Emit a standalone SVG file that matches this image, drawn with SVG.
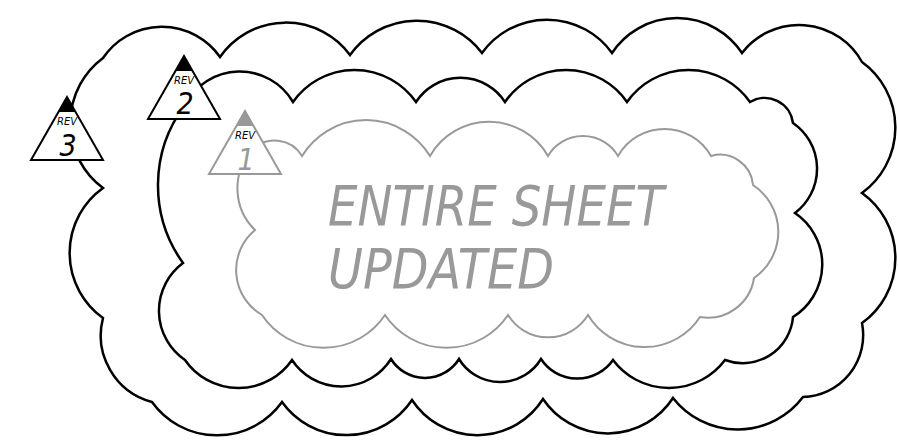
<svg xmlns="http://www.w3.org/2000/svg" width="898" height="440" viewBox="0 0 898 440">
<style>
.bk{fill:none;stroke:#000;stroke-width:2.5;stroke-linejoin:miter}
.gy{fill:none;stroke:#999;stroke-width:2;stroke-linejoin:miter}
.tri{fill:#fff;stroke:#000;stroke-width:2}
.tri1{fill:#fff;stroke:#999;stroke-width:2}
.rev{font-family:"DejaVu Sans",sans-serif;font-style:oblique;font-size:10px;text-anchor:middle}
.num{font-family:"DejaVu Sans",sans-serif;font-style:oblique;font-size:30px;text-anchor:middle;font-stretch:condensed}
.big{font-family:"DejaVu Sans",sans-serif;font-style:oblique;font-size:56px;fill:#999}
</style>
<rect width="898" height="440" fill="#fff"/>
<g id="clouds">
<path id="cloud-outer" class="bk" d="M103,58 A71,71 0 0 1 220,57 A80,80 0 0 1 350,55 A82,82 0 0 1 482,53 A80,80 0 0 1 612,53 A78,78 0 0 1 742,53 A72,72 0 0 1 862,62 A81,81 0 0 1 862,193 A80,80 0 0 1 862,323 A62,62 0 0 1 803,397 A82,82 0 0 1 673,398 A78,78 0 0 1 543,399 A78,78 0 0 1 412,400 A79,79 0 0 1 282,402 A80,80 0 0 1 152,402 A69,69 0 0 1 103,318 A80,80 0 0 1 103,188 A81,81 0 0 1 103,58 Z"/>
<path id="cloud-middle" class="bk" d="M185,105 A61.6,61.6 0 0 1 293,102 A75,75 0 0 1 416,102 A53,53 0 0 1 505,102 A74,74 0 0 1 627,102 A75,75 0 0 1 750,102 A28.5,28.5 0 0 1 793,123 A55.5,55.5 0 0 1 795,213 A62,62 0 0 1 793,317 A50.5,50.5 0 0 1 725,360 A70,70 0 0 1 613,360 A43.5,43.5 0 0 1 541,359 A48,48 0 0 1 459,359 A40,40 0 0 1 391,359 A59,59 0 0 1 292,360 A65,65 0 0 1 185,360 A59.5,59.5 0 0 1 183,263 A133,133 0 0 1 185,105 Z"/>
<path id="cloud-inner" class="gy" d="M252,150 A32,32 0 0 1 302,156 A75,75 0 0 1 430,156 A68,68 0 0 1 548,156 A40.6,40.6 0 0 1 618,156 A53.5,53.5 0 0 1 711,156 A33,33 0 0 1 753,185 A56,56 0 0 1 754,278 A46.6,46.6 0 0 1 700,317 A66,66 0 0 1 588,315 A47,47 0 0 1 508,315 A74,74 0 0 1 385,315 A74,74 0 0 1 262,315 A52,52 0 0 1 255,230 A58,58 0 0 1 252,150 Z"/>
</g>
<g id="note">
<text class="big" x="328" y="225" textLength="336" lengthAdjust="spacingAndGlyphs">ENTIRE SHEET</text>
<text class="big" x="328" y="288" textLength="226" lengthAdjust="spacingAndGlyphs">UPDATED</text>
</g>
<g id="rev3">
<polygon class="tri" points="67,97 31,160 103,160"/>
<polygon points="67,97 58.4,112 75.6,112" fill="#000"/>
<text class="rev" x="67" y="125">REV</text>
<text class="num" x="68" y="156">3</text>
</g>
<g id="rev2">
<polygon class="tri" points="184,56 148,119 220,119"/>
<polygon points="184,56 175.4,71 192.6,71" fill="#000"/>
<text class="rev" x="184" y="84">REV</text>
<text class="num" x="185" y="114">2</text>
</g>
<g id="rev1">
<polygon class="tri1" points="245,111 209,174 281,174"/>
<polygon points="245,111 236.4,126 253.6,126" fill="#999"/>
<text class="rev" x="245" y="139">REV</text>
<text class="num" x="246" y="170" fill="#999">1</text>
</g>
</svg>
